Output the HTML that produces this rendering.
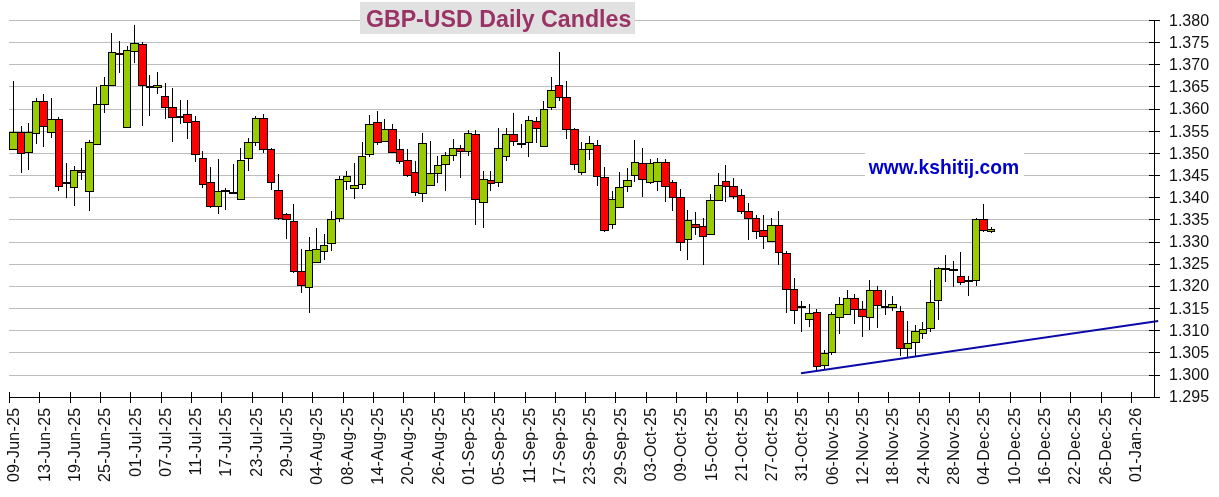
<!DOCTYPE html>
<html lang="en"><head><meta charset="utf-8"><title>GBP-USD Daily Candles</title>
<style>html,body{margin:0;padding:0;background:#fff}body{width:1219px;height:497px;overflow:hidden}svg{display:block}text{font-family:"Liberation Sans",Arial,sans-serif}.yl{font-size:16px;fill:#111}.xl{font-size:16px;fill:#111;letter-spacing:0.28px}.g{fill:#99cc00}.r{fill:#ff0000}.k{fill:#000}</style></head><body>
<svg width="1219" height="497" viewBox="0 0 1219 497">
<rect x="0" y="0" width="1219" height="497" fill="#fff"/>
<g fill="#bcbcbc">
<rect x="9" y="20" width="1145" height="1"/>
<rect x="9" y="42" width="1145" height="1"/>
<rect x="9" y="64" width="1145" height="1"/>
<rect x="9" y="86" width="1145" height="1"/>
<rect x="9" y="109" width="1145" height="1"/>
<rect x="9" y="131" width="1145" height="1"/>
<rect x="9" y="153" width="1145" height="1"/>
<rect x="9" y="175" width="1145" height="1"/>
<rect x="9" y="197" width="1145" height="1"/>
<rect x="9" y="219" width="1145" height="1"/>
<rect x="9" y="242" width="1145" height="1"/>
<rect x="9" y="264" width="1145" height="1"/>
<rect x="9" y="286" width="1145" height="1"/>
<rect x="9" y="308" width="1145" height="1"/>
<rect x="9" y="330" width="1145" height="1"/>
<rect x="9" y="352" width="1145" height="1"/>
<rect x="9" y="375" width="1145" height="1"/>
</g>
<rect x="360" y="2" width="275" height="32" fill="#e1e1e1"/>
<text x="498.6" y="26.6" text-anchor="middle" font-size="23.2" font-weight="bold" fill="#993366">GBP-USD Daily Candles</text>
<rect x="865" y="140" width="159" height="46" fill="#fff"/>
<text x="944" y="173.5" text-anchor="middle" font-size="19.3" font-weight="bold" fill="#0000cc">www.kshitij.com</text>
<g class="k"><rect x="13" y="81" width="1" height="68"/><rect x="21" y="126" width="1" height="47"/><rect x="28" y="123" width="1" height="47"/><rect x="36" y="98" width="1" height="46"/><rect x="43" y="94" width="1" height="53"/><rect x="51" y="98" width="1" height="40"/><rect x="58" y="117" width="1" height="74"/><rect x="66" y="163" width="1" height="35"/><rect x="74" y="166" width="1" height="40"/><rect x="81" y="148" width="1" height="32"/><rect x="89" y="140" width="1" height="71"/><rect x="96" y="87" width="1" height="57"/><rect x="104" y="77" width="1" height="36"/><rect x="111" y="33" width="1" height="53"/><rect x="119" y="41" width="1" height="32"/><rect x="127" y="46" width="1" height="82"/><rect x="134" y="25" width="1" height="38"/><rect x="142" y="42" width="1" height="84"/><rect x="149" y="75" width="1" height="41"/><rect x="157" y="72" width="1" height="22"/><rect x="165" y="83" width="1" height="36"/><rect x="172" y="88" width="1" height="54"/><rect x="180" y="100" width="1" height="24"/><rect x="187" y="100" width="1" height="39"/><rect x="195" y="116" width="1" height="46"/><rect x="202" y="151" width="1" height="37"/><rect x="210" y="167" width="1" height="41"/><rect x="218" y="159" width="1" height="55"/><rect x="225" y="188" width="1" height="22"/><rect x="233" y="164" width="1" height="30"/><rect x="240" y="148" width="1" height="51"/><rect x="248" y="138" width="1" height="33"/><rect x="255" y="116" width="1" height="30"/><rect x="263" y="114" width="1" height="39"/><rect x="271" y="148" width="1" height="42"/><rect x="278" y="174" width="1" height="46"/><rect x="286" y="213" width="1" height="26"/><rect x="293" y="204" width="1" height="69"/><rect x="301" y="249" width="1" height="44"/><rect x="309" y="237" width="1" height="76"/><rect x="316" y="228" width="1" height="34"/><rect x="324" y="234" width="1" height="26"/><rect x="331" y="211" width="1" height="40"/><rect x="339" y="176" width="1" height="46"/><rect x="346" y="171" width="1" height="19"/><rect x="354" y="163" width="1" height="36"/><rect x="362" y="142" width="1" height="47"/><rect x="369" y="115" width="1" height="42"/><rect x="377" y="111" width="1" height="34"/><rect x="384" y="119" width="1" height="22"/><rect x="392" y="124" width="1" height="28"/><rect x="399" y="139" width="1" height="25"/><rect x="407" y="149" width="1" height="28"/><rect x="415" y="161" width="1" height="35"/><rect x="422" y="133" width="1" height="69"/><rect x="430" y="141" width="1" height="44"/><rect x="437" y="156" width="1" height="27"/><rect x="445" y="152" width="1" height="39"/><rect x="453" y="139" width="1" height="22"/><rect x="460" y="145" width="1" height="33"/><rect x="468" y="130" width="1" height="26"/><rect x="475" y="130" width="1" height="95"/><rect x="483" y="171" width="1" height="57"/><rect x="490" y="171" width="1" height="20"/><rect x="498" y="128" width="1" height="59"/><rect x="506" y="128" width="1" height="33"/><rect x="513" y="113" width="1" height="33"/><rect x="521" y="124" width="1" height="24"/><rect x="528" y="116" width="1" height="41"/><rect x="536" y="117" width="1" height="26"/><rect x="543" y="101" width="1" height="45"/><rect x="551" y="77" width="1" height="33"/><rect x="559" y="52" width="1" height="49"/><rect x="566" y="81" width="1" height="58"/><rect x="574" y="128" width="1" height="42"/><rect x="581" y="142" width="1" height="33"/><rect x="589" y="136" width="1" height="24"/><rect x="597" y="140" width="1" height="46"/><rect x="604" y="167" width="1" height="65"/><rect x="612" y="191" width="1" height="38"/><rect x="619" y="172" width="1" height="35"/><rect x="627" y="168" width="1" height="24"/><rect x="634" y="140" width="1" height="42"/><rect x="642" y="148" width="1" height="49"/><rect x="650" y="159" width="1" height="25"/><rect x="657" y="158" width="1" height="33"/><rect x="665" y="159" width="1" height="43"/><rect x="672" y="180" width="1" height="31"/><rect x="680" y="189" width="1" height="62"/><rect x="687" y="210" width="1" height="50"/><rect x="695" y="212" width="1" height="23"/><rect x="703" y="218" width="1" height="47"/><rect x="710" y="194" width="1" height="40"/><rect x="718" y="173" width="1" height="27"/><rect x="725" y="165" width="1" height="37"/><rect x="733" y="178" width="1" height="21"/><rect x="741" y="189" width="1" height="25"/><rect x="748" y="203" width="1" height="37"/><rect x="756" y="215" width="1" height="24"/><rect x="763" y="215" width="1" height="34"/><rect x="771" y="218" width="1" height="23"/><rect x="778" y="211" width="1" height="54"/><rect x="786" y="251" width="1" height="62"/><rect x="794" y="278" width="1" height="46"/><rect x="801" y="301" width="1" height="31"/><rect x="809" y="304" width="1" height="23"/><rect x="816" y="309" width="1" height="61"/><rect x="824" y="350" width="1" height="19"/><rect x="831" y="312" width="1" height="43"/><rect x="839" y="297" width="1" height="37"/><rect x="847" y="290" width="1" height="24"/><rect x="854" y="294" width="1" height="30"/><rect x="862" y="301" width="1" height="36"/><rect x="869" y="280" width="1" height="50"/><rect x="877" y="286" width="1" height="42"/><rect x="885" y="290" width="1" height="25"/><rect x="892" y="296" width="1" height="15"/><rect x="900" y="306" width="1" height="50"/><rect x="907" y="321" width="1" height="36"/><rect x="915" y="325" width="1" height="32"/><rect x="922" y="322" width="1" height="17"/><rect x="930" y="280" width="1" height="52"/><rect x="938" y="267" width="1" height="53"/><rect x="945" y="255" width="1" height="27"/><rect x="953" y="261" width="1" height="26"/><rect x="960" y="252" width="1" height="33"/><rect x="968" y="276" width="1" height="20"/><rect x="976" y="218" width="1" height="68"/><rect x="983" y="204" width="1" height="28"/><rect x="991" y="227" width="1" height="6"/></g>
<g class="k"><rect x="9" y="132" width="9" height="18"/><rect x="17" y="132" width="8" height="22"/><rect x="24" y="132" width="9" height="21"/><rect x="32" y="101" width="8" height="33"/><rect x="39" y="101" width="9" height="26"/><rect x="47" y="119" width="9" height="14"/><rect x="55" y="119" width="8" height="68"/><rect x="62" y="182" width="9" height="2"/><rect x="70" y="170" width="8" height="18"/><rect x="77" y="170" width="9" height="3"/><rect x="85" y="142" width="9" height="50"/><rect x="93" y="104" width="8" height="41"/><rect x="100" y="85" width="9" height="20"/><rect x="108" y="52" width="8" height="34"/><rect x="115" y="53" width="9" height="2"/><rect x="123" y="50" width="8" height="78"/><rect x="130" y="43" width="9" height="9"/><rect x="138" y="44" width="9" height="42"/><rect x="146" y="86" width="8" height="2"/><rect x="153" y="85" width="9" height="3"/><rect x="161" y="96" width="8" height="12"/><rect x="168" y="107" width="9" height="11"/><rect x="176" y="116" width="8" height="2"/><rect x="183" y="114" width="9" height="9"/><rect x="191" y="121" width="9" height="34"/><rect x="199" y="158" width="8" height="27"/><rect x="206" y="182" width="9" height="25"/><rect x="214" y="191" width="8" height="16"/><rect x="221" y="190" width="9" height="2"/><rect x="229" y="192" width="9" height="2"/><rect x="237" y="160" width="8" height="40"/><rect x="244" y="142" width="9" height="17"/><rect x="252" y="118" width="8" height="25"/><rect x="259" y="118" width="9" height="32"/><rect x="267" y="149" width="8" height="34"/><rect x="274" y="190" width="9" height="29"/><rect x="282" y="214" width="9" height="6"/><rect x="290" y="221" width="8" height="51"/><rect x="297" y="271" width="9" height="15"/><rect x="305" y="250" width="8" height="38"/><rect x="312" y="249" width="9" height="14"/><rect x="320" y="245" width="8" height="7"/><rect x="327" y="219" width="9" height="25"/><rect x="335" y="179" width="9" height="40"/><rect x="343" y="176" width="8" height="6"/><rect x="350" y="185" width="9" height="4"/><rect x="358" y="156" width="8" height="29"/><rect x="365" y="124" width="9" height="31"/><rect x="373" y="122" width="9" height="21"/><rect x="381" y="129" width="8" height="13"/><rect x="388" y="129" width="9" height="24"/><rect x="396" y="149" width="8" height="13"/><rect x="403" y="160" width="9" height="16"/><rect x="411" y="172" width="8" height="21"/><rect x="418" y="143" width="9" height="51"/><rect x="426" y="173" width="9" height="13"/><rect x="434" y="165" width="8" height="9"/><rect x="441" y="155" width="9" height="10"/><rect x="449" y="148" width="8" height="8"/><rect x="456" y="148" width="9" height="4"/><rect x="464" y="133" width="8" height="19"/><rect x="471" y="134" width="9" height="66"/><rect x="479" y="179" width="9" height="24"/><rect x="487" y="180" width="8" height="4"/><rect x="494" y="148" width="9" height="35"/><rect x="502" y="134" width="8" height="23"/><rect x="509" y="134" width="9" height="8"/><rect x="517" y="143" width="9" height="2"/><rect x="525" y="120" width="8" height="23"/><rect x="532" y="121" width="9" height="8"/><rect x="540" y="109" width="8" height="38"/><rect x="547" y="90" width="9" height="18"/><rect x="555" y="85" width="8" height="13"/><rect x="562" y="97" width="9" height="33"/><rect x="570" y="129" width="9" height="36"/><rect x="578" y="149" width="8" height="24"/><rect x="585" y="143" width="9" height="7"/><rect x="593" y="145" width="8" height="32"/><rect x="600" y="177" width="9" height="54"/><rect x="608" y="199" width="8" height="26"/><rect x="615" y="187" width="9" height="21"/><rect x="623" y="180" width="9" height="7"/><rect x="631" y="162" width="8" height="14"/><rect x="638" y="163" width="9" height="17"/><rect x="646" y="163" width="8" height="20"/><rect x="653" y="162" width="9" height="20"/><rect x="661" y="162" width="9" height="25"/><rect x="669" y="182" width="8" height="16"/><rect x="676" y="197" width="9" height="46"/><rect x="684" y="220" width="8" height="20"/><rect x="691" y="224" width="9" height="4"/><rect x="699" y="226" width="8" height="11"/><rect x="706" y="200" width="9" height="35"/><rect x="714" y="185" width="9" height="16"/><rect x="722" y="181" width="8" height="6"/><rect x="729" y="186" width="9" height="11"/><rect x="737" y="195" width="8" height="17"/><rect x="744" y="211" width="9" height="8"/><rect x="752" y="218" width="8" height="14"/><rect x="759" y="230" width="9" height="7"/><rect x="767" y="225" width="9" height="17"/><rect x="775" y="225" width="8" height="28"/><rect x="782" y="253" width="9" height="37"/><rect x="790" y="289" width="8" height="22"/><rect x="797" y="306" width="9" height="2"/><rect x="805" y="313" width="9" height="7"/><rect x="813" y="312" width="8" height="55"/><rect x="820" y="353" width="9" height="13"/><rect x="828" y="314" width="8" height="39"/><rect x="835" y="304" width="9" height="14"/><rect x="843" y="298" width="8" height="17"/><rect x="850" y="298" width="9" height="12"/><rect x="858" y="309" width="9" height="8"/><rect x="866" y="290" width="8" height="28"/><rect x="873" y="290" width="9" height="16"/><rect x="881" y="306" width="8" height="2"/><rect x="888" y="304" width="9" height="4"/><rect x="896" y="311" width="8" height="38"/><rect x="904" y="343" width="8" height="6"/><rect x="911" y="331" width="9" height="12"/><rect x="919" y="329" width="8" height="5"/><rect x="926" y="302" width="9" height="27"/><rect x="934" y="268" width="8" height="33"/><rect x="941" y="268" width="9" height="2"/><rect x="949" y="269" width="9" height="2"/><rect x="957" y="276" width="8" height="7"/><rect x="964" y="280" width="9" height="2"/><rect x="972" y="219" width="8" height="62"/><rect x="979" y="219" width="9" height="12"/><rect x="987" y="229" width="8" height="3"/></g>
<g class="g"><rect x="10" y="133" width="7" height="16"/><rect x="25" y="133" width="7" height="19"/><rect x="33" y="102" width="6" height="31"/><rect x="48" y="120" width="7" height="12"/><rect x="71" y="171" width="6" height="16"/><rect x="86" y="143" width="7" height="48"/><rect x="94" y="105" width="6" height="39"/><rect x="101" y="86" width="7" height="18"/><rect x="109" y="53" width="6" height="32"/><rect x="124" y="51" width="6" height="76"/><rect x="131" y="44" width="7" height="7"/><rect x="154" y="86" width="7" height="1" fill="#86b010"/><rect x="215" y="192" width="6" height="14"/><rect x="238" y="161" width="6" height="38"/><rect x="245" y="143" width="7" height="15"/><rect x="253" y="119" width="6" height="23"/><rect x="306" y="251" width="6" height="36"/><rect x="313" y="250" width="7" height="12"/><rect x="321" y="246" width="6" height="5"/><rect x="328" y="220" width="7" height="23"/><rect x="336" y="180" width="7" height="38"/><rect x="344" y="177" width="6" height="4"/><rect x="351" y="186" width="7" height="2"/><rect x="359" y="157" width="6" height="27"/><rect x="366" y="125" width="7" height="29"/><rect x="382" y="130" width="6" height="11"/><rect x="419" y="144" width="7" height="49"/><rect x="427" y="174" width="7" height="11"/><rect x="435" y="166" width="6" height="7"/><rect x="442" y="156" width="7" height="8"/><rect x="450" y="149" width="6" height="6"/><rect x="465" y="134" width="6" height="17"/><rect x="480" y="180" width="7" height="22"/><rect x="495" y="149" width="7" height="33"/><rect x="503" y="135" width="6" height="21"/><rect x="526" y="121" width="6" height="21"/><rect x="541" y="110" width="6" height="36"/><rect x="548" y="91" width="7" height="16"/><rect x="579" y="150" width="6" height="22"/><rect x="586" y="144" width="7" height="5"/><rect x="609" y="200" width="6" height="24"/><rect x="616" y="188" width="7" height="19"/><rect x="624" y="181" width="7" height="5"/><rect x="632" y="163" width="6" height="12"/><rect x="647" y="164" width="6" height="18"/><rect x="654" y="163" width="7" height="18"/><rect x="685" y="221" width="6" height="18"/><rect x="707" y="201" width="7" height="33"/><rect x="715" y="186" width="7" height="14"/><rect x="768" y="226" width="7" height="15"/><rect x="806" y="314" width="7" height="5"/><rect x="821" y="354" width="7" height="11"/><rect x="829" y="315" width="6" height="37"/><rect x="836" y="305" width="7" height="12"/><rect x="844" y="299" width="6" height="15"/><rect x="867" y="291" width="6" height="26"/><rect x="889" y="305" width="7" height="2"/><rect x="905" y="344" width="6" height="4"/><rect x="912" y="332" width="7" height="10"/><rect x="920" y="330" width="6" height="3"/><rect x="927" y="303" width="7" height="25"/><rect x="935" y="269" width="6" height="31"/><rect x="973" y="220" width="6" height="60"/><rect x="988" y="230" width="6" height="1" fill="#86b010"/></g>
<g class="r"><rect x="18" y="133" width="6" height="20"/><rect x="40" y="102" width="7" height="24"/><rect x="56" y="120" width="6" height="66"/><rect x="78" y="171" width="7" height="1" fill="#80303a"/><rect x="116" y="53.5" width="7" height="1" opacity="0.3"/><rect x="139" y="45" width="7" height="40"/><rect x="162" y="97" width="6" height="10"/><rect x="169" y="108" width="7" height="9"/><rect x="184" y="115" width="7" height="7"/><rect x="192" y="122" width="7" height="32"/><rect x="200" y="159" width="6" height="25"/><rect x="207" y="183" width="7" height="23"/><rect x="260" y="119" width="7" height="30"/><rect x="268" y="150" width="6" height="32"/><rect x="275" y="191" width="7" height="27"/><rect x="283" y="215" width="7" height="4"/><rect x="291" y="222" width="6" height="49"/><rect x="298" y="272" width="7" height="13"/><rect x="374" y="123" width="7" height="19"/><rect x="389" y="130" width="7" height="22"/><rect x="397" y="150" width="6" height="11"/><rect x="404" y="161" width="7" height="14"/><rect x="412" y="173" width="6" height="19"/><rect x="457" y="149" width="7" height="2" fill="#d81818"/><rect x="472" y="135" width="7" height="64"/><rect x="488" y="181" width="6" height="2" fill="#d81818"/><rect x="510" y="135" width="7" height="6"/><rect x="533" y="122" width="7" height="6"/><rect x="556" y="86" width="6" height="11"/><rect x="563" y="98" width="7" height="31"/><rect x="571" y="130" width="7" height="34"/><rect x="594" y="146" width="6" height="30"/><rect x="601" y="178" width="7" height="52"/><rect x="639" y="164" width="7" height="15"/><rect x="662" y="163" width="7" height="23"/><rect x="670" y="183" width="6" height="14"/><rect x="677" y="198" width="7" height="44"/><rect x="692" y="225" width="7" height="2" fill="#d81818"/><rect x="700" y="227" width="6" height="9"/><rect x="723" y="182" width="6" height="4"/><rect x="730" y="187" width="7" height="9"/><rect x="738" y="196" width="6" height="15"/><rect x="745" y="212" width="7" height="6"/><rect x="753" y="219" width="6" height="12"/><rect x="760" y="231" width="7" height="5"/><rect x="776" y="226" width="6" height="26"/><rect x="783" y="254" width="7" height="35"/><rect x="791" y="290" width="6" height="20"/><rect x="814" y="313" width="6" height="53"/><rect x="851" y="299" width="7" height="10"/><rect x="859" y="310" width="7" height="6"/><rect x="874" y="291" width="7" height="14"/><rect x="897" y="312" width="6" height="36"/><rect x="958" y="277" width="6" height="5"/><rect x="980" y="220" width="7" height="10"/></g>
<line x1="801" y1="373.2" x2="1158.2" y2="321.05" stroke="#0a0aa8" stroke-width="2"/>
<g class="k">
<rect x="1154" y="20" width="1" height="378"/>
<rect x="9" y="397" width="1145" height="1"/>
<rect x="1149" y="20" width="11" height="1"/>
<rect x="1149" y="42" width="11" height="1"/>
<rect x="1149" y="64" width="11" height="1"/>
<rect x="1149" y="86" width="11" height="1"/>
<rect x="1149" y="109" width="11" height="1"/>
<rect x="1149" y="131" width="11" height="1"/>
<rect x="1149" y="153" width="11" height="1"/>
<rect x="1149" y="175" width="11" height="1"/>
<rect x="1149" y="197" width="11" height="1"/>
<rect x="1149" y="219" width="11" height="1"/>
<rect x="1149" y="242" width="11" height="1"/>
<rect x="1149" y="264" width="11" height="1"/>
<rect x="1149" y="286" width="11" height="1"/>
<rect x="1149" y="308" width="11" height="1"/>
<rect x="1149" y="330" width="11" height="1"/>
<rect x="1149" y="352" width="11" height="1"/>
<rect x="1149" y="375" width="11" height="1"/>
<rect x="1149" y="397" width="11" height="1"/>
<rect x="9" y="392" width="1" height="11"/>
<rect x="39" y="392" width="1" height="11"/>
<rect x="70" y="392" width="1" height="11"/>
<rect x="100" y="392" width="1" height="11"/>
<rect x="130" y="392" width="1" height="11"/>
<rect x="161" y="392" width="1" height="11"/>
<rect x="191" y="392" width="1" height="11"/>
<rect x="221" y="392" width="1" height="11"/>
<rect x="252" y="392" width="1" height="11"/>
<rect x="282" y="392" width="1" height="11"/>
<rect x="312" y="392" width="1" height="11"/>
<rect x="343" y="392" width="1" height="11"/>
<rect x="373" y="392" width="1" height="11"/>
<rect x="403" y="392" width="1" height="11"/>
<rect x="434" y="392" width="1" height="11"/>
<rect x="464" y="392" width="1" height="11"/>
<rect x="494" y="392" width="1" height="11"/>
<rect x="525" y="392" width="1" height="11"/>
<rect x="555" y="392" width="1" height="11"/>
<rect x="585" y="392" width="1" height="11"/>
<rect x="615" y="392" width="1" height="11"/>
<rect x="646" y="392" width="1" height="11"/>
<rect x="676" y="392" width="1" height="11"/>
<rect x="706" y="392" width="1" height="11"/>
<rect x="737" y="392" width="1" height="11"/>
<rect x="767" y="392" width="1" height="11"/>
<rect x="797" y="392" width="1" height="11"/>
<rect x="828" y="392" width="1" height="11"/>
<rect x="858" y="392" width="1" height="11"/>
<rect x="888" y="392" width="1" height="11"/>
<rect x="919" y="392" width="1" height="11"/>
<rect x="949" y="392" width="1" height="11"/>
<rect x="979" y="392" width="1" height="11"/>
<rect x="1010" y="392" width="1" height="11"/>
<rect x="1040" y="392" width="1" height="11"/>
<rect x="1070" y="392" width="1" height="11"/>
<rect x="1101" y="392" width="1" height="11"/>
<rect x="1131" y="392" width="1" height="11"/>
</g>
<g class="yl">
<text x="1169" y="25.9">1.380</text>
<text x="1169" y="48.0">1.375</text>
<text x="1169" y="70.1">1.370</text>
<text x="1169" y="92.3">1.365</text>
<text x="1169" y="114.4">1.360</text>
<text x="1169" y="136.5">1.355</text>
<text x="1169" y="158.6">1.350</text>
<text x="1169" y="180.7">1.345</text>
<text x="1169" y="202.9">1.340</text>
<text x="1169" y="225.0">1.335</text>
<text x="1169" y="247.1">1.330</text>
<text x="1169" y="269.2">1.325</text>
<text x="1169" y="291.3">1.320</text>
<text x="1169" y="313.5">1.315</text>
<text x="1169" y="335.6">1.310</text>
<text x="1169" y="357.7">1.305</text>
<text x="1169" y="379.8">1.300</text>
<text x="1169" y="401.9">1.295</text>
</g>
<g class="xl">
<text transform="translate(13.47,407.5) rotate(-90)" text-anchor="end" x="0" y="5.8">09-Jun-25</text>
<text transform="translate(43.78,407.5) rotate(-90)" text-anchor="end" x="0" y="5.8">13-Jun-25</text>
<text transform="translate(74.10,407.5) rotate(-90)" text-anchor="end" x="0" y="5.8">19-Jun-25</text>
<text transform="translate(104.42,407.5) rotate(-90)" text-anchor="end" x="0" y="5.8">25-Jun-25</text>
<text transform="translate(134.73,407.5) rotate(-90)" text-anchor="end" x="0" y="5.8">01-Jul-25</text>
<text transform="translate(165.05,407.5) rotate(-90)" text-anchor="end" x="0" y="5.8">07-Jul-25</text>
<text transform="translate(195.36,407.5) rotate(-90)" text-anchor="end" x="0" y="5.8">11-Jul-25</text>
<text transform="translate(225.68,407.5) rotate(-90)" text-anchor="end" x="0" y="5.8">17-Jul-25</text>
<text transform="translate(256.00,407.5) rotate(-90)" text-anchor="end" x="0" y="5.8">23-Jul-25</text>
<text transform="translate(286.31,407.5) rotate(-90)" text-anchor="end" x="0" y="5.8">29-Jul-25</text>
<text transform="translate(316.63,407.5) rotate(-90)" text-anchor="end" x="0" y="5.8">04-Aug-25</text>
<text transform="translate(346.94,407.5) rotate(-90)" text-anchor="end" x="0" y="5.8">08-Aug-25</text>
<text transform="translate(377.26,407.5) rotate(-90)" text-anchor="end" x="0" y="5.8">14-Aug-25</text>
<text transform="translate(407.58,407.5) rotate(-90)" text-anchor="end" x="0" y="5.8">20-Aug-25</text>
<text transform="translate(437.89,407.5) rotate(-90)" text-anchor="end" x="0" y="5.8">26-Aug-25</text>
<text transform="translate(468.21,407.5) rotate(-90)" text-anchor="end" x="0" y="5.8">01-Sep-25</text>
<text transform="translate(498.52,407.5) rotate(-90)" text-anchor="end" x="0" y="5.8">05-Sep-25</text>
<text transform="translate(528.84,407.5) rotate(-90)" text-anchor="end" x="0" y="5.8">11-Sep-25</text>
<text transform="translate(559.16,407.5) rotate(-90)" text-anchor="end" x="0" y="5.8">17-Sep-25</text>
<text transform="translate(589.47,407.5) rotate(-90)" text-anchor="end" x="0" y="5.8">23-Sep-25</text>
<text transform="translate(619.79,407.5) rotate(-90)" text-anchor="end" x="0" y="5.8">29-Sep-25</text>
<text transform="translate(650.10,407.5) rotate(-90)" text-anchor="end" x="0" y="5.8">03-Oct-25</text>
<text transform="translate(680.42,407.5) rotate(-90)" text-anchor="end" x="0" y="5.8">09-Oct-25</text>
<text transform="translate(710.74,407.5) rotate(-90)" text-anchor="end" x="0" y="5.8">15-Oct-25</text>
<text transform="translate(741.05,407.5) rotate(-90)" text-anchor="end" x="0" y="5.8">21-Oct-25</text>
<text transform="translate(771.37,407.5) rotate(-90)" text-anchor="end" x="0" y="5.8">27-Oct-25</text>
<text transform="translate(801.68,407.5) rotate(-90)" text-anchor="end" x="0" y="5.8">31-Oct-25</text>
<text transform="translate(832.00,407.5) rotate(-90)" text-anchor="end" x="0" y="5.8">06-Nov-25</text>
<text transform="translate(862.32,407.5) rotate(-90)" text-anchor="end" x="0" y="5.8">12-Nov-25</text>
<text transform="translate(892.63,407.5) rotate(-90)" text-anchor="end" x="0" y="5.8">18-Nov-25</text>
<text transform="translate(922.95,407.5) rotate(-90)" text-anchor="end" x="0" y="5.8">24-Nov-25</text>
<text transform="translate(953.26,407.5) rotate(-90)" text-anchor="end" x="0" y="5.8">28-Nov-25</text>
<text transform="translate(983.58,407.5) rotate(-90)" text-anchor="end" x="0" y="5.8">04-Dec-25</text>
<text transform="translate(1013.90,407.5) rotate(-90)" text-anchor="end" x="0" y="5.8">10-Dec-25</text>
<text transform="translate(1044.21,407.5) rotate(-90)" text-anchor="end" x="0" y="5.8">16-Dec-25</text>
<text transform="translate(1074.53,407.5) rotate(-90)" text-anchor="end" x="0" y="5.8">22-Dec-25</text>
<text transform="translate(1104.84,407.5) rotate(-90)" text-anchor="end" x="0" y="5.8">26-Dec-25</text>
<text transform="translate(1135.16,407.5) rotate(-90)" text-anchor="end" x="0" y="5.8">01-Jan-26</text>
</g>
</svg></body></html>
